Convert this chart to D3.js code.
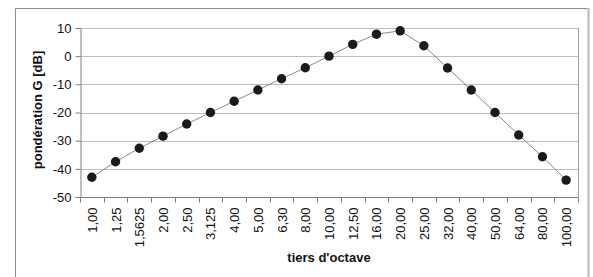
<!DOCTYPE html>
<html>
<head>
<meta charset="utf-8">
<script src="https://cdn.jsdelivr.net/npm/d3@7"></script>
<style>
  body { margin: 0; background: #fff; }
  svg text { font-family: "Liberation Sans", Arial, sans-serif; fill: #111; }
</style>
</head>
<body>
<div id="chart"></div>
<script>
// tiers d'octave (Hz) and G weighting (dB)
var categories = ["1,00", "1,25", "1,5625", "2,00", "2,50", "3,125", "4,00", "5,00", "6,30", "8,00",
    "10,00", "12,50", "16,00", "20,00", "25,00", "32,00", "40,00", "50,00", "64,00", "80,00", "100,00"];
var values = [-43, -37.5, -32.7, -28.4, -24.1, -20, -16, -12, -8, -4.1,
    0, 4.2, 7.8, 9, 3.7, -4.2, -12, -20, -28, -35.7, -44];
var yTicks = [10, 0, -10, -20, -30, -40, -50];

var W = 593, H = 277;
var margin = {left: 80, top: 28, right: 15, bottom: 80};
var w = W - margin.left - margin.right,
    h = H - margin.top - margin.bottom;

var svg = d3.select("#chart").append("svg")
    .attr("width", W)
    .attr("height", H);

// outer frame
svg.append("path")
    .attr("d", "M15.5,290 V8.5 H587.5")
    .attr("fill", "none")
    .attr("stroke", "#8c8c8c")
    .attr("stroke-width", 1);
svg.append("line")
    .attr("x1", 588.5).attr("x2", 588.5)
    .attr("y1", 8).attr("y2", H)
    .style("stroke", "#c4c4c4")
    .style("stroke-width", "2.5px");

var g = svg.append("g")
    .attr("transform", "translate(" + margin.left + "," + margin.top + ")");

var x = d3.scaleBand().domain(categories).range([0, w]);
var y = d3.scaleLinear().domain([-50, 10]).range([h, 0]);

// grid
g.selectAll(".grid").data(yTicks).enter()
    .append("line")
    .attr("x1", 0).attr("x2", w)
    .attr("y1", function(d) { return Math.round(y(d)) + 0.5; })
    .attr("y2", function(d) { return Math.round(y(d)) + 0.5; })
    .style("stroke", "#bdbdbd")
    .style("stroke-width", "1px");

// right border of plot
g.append("line")
    .attr("x1", w + 0.5).attr("x2", w + 0.5)
    .attr("y1", 0).attr("y2", h)
    .style("stroke", "#a0a0a0");

// y axis
var yAxis = g.append("g")
    .attr("transform", "translate(0.5,0)")
    .call(d3.axisLeft(y).tickValues(yTicks).tickSize(5).tickPadding(4)
        .tickFormat(function(d) { return d; }));
yAxis.selectAll("path, line").style("stroke", "#808080");
yAxis.selectAll("text").style("font-size", "13px");

// x axis, ticks at category boundaries
var xAxis = g.append("g")
    .attr("transform", "translate(0," + (h + 0.5) + ")");
xAxis.append("line")
    .attr("x1", 0).attr("x2", w)
    .style("stroke", "#808080");
xAxis.selectAll(".tick").data(categories.concat([null])).enter()
    .append("line")
    .attr("x1", function(d, i) { return Math.round(i * x.step()) + 0.5; })
    .attr("x2", function(d, i) { return Math.round(i * x.step()) + 0.5; })
    .attr("y1", 0).attr("y2", 5)
    .style("stroke", "#808080");
xAxis.selectAll(".lbl").data(categories).enter()
    .append("text")
    .attr("transform", function(d) {
        return "translate(" + (x(d) + x.bandwidth() / 2 + 5) + ",10) rotate(-90)";
    })
    .attr("text-anchor", "end")
    .style("font-size", "13px")
    .text(function(d) { return d; });

// line + markers
var line = d3.line()
    .x(function(d, i) { return x(categories[i]) + x.bandwidth() / 2; })
    .y(function(d) { return y(d); });

g.append("path")
    .datum(values)
    .attr("d", line)
    .attr("fill", "none")
    .style("stroke", "#8a8a8a")
    .style("stroke-width", "1px");

g.selectAll(".dot").data(values).enter()
    .append("circle")
    .attr("cx", function(d, i) { return x(categories[i]) + x.bandwidth() / 2; })
    .attr("cy", function(d) { return y(d); })
    .attr("r", 4.7)
    .style("fill", "#1a1a1a");

// axis titles
svg.append("text")
    .attr("transform", "translate(42,110) rotate(-90)")
    .attr("text-anchor", "middle")
    .style("font-size", "13px")
    .style("font-weight", "bold")
    .text("pondération G [dB]");

svg.append("text")
    .attr("x", margin.left + w / 2)
    .attr("y", 262)
    .attr("text-anchor", "middle")
    .style("font-size", "13px")
    .style("font-weight", "bold")
    .text("tiers d'octave");
</script>
</body>
</html>
